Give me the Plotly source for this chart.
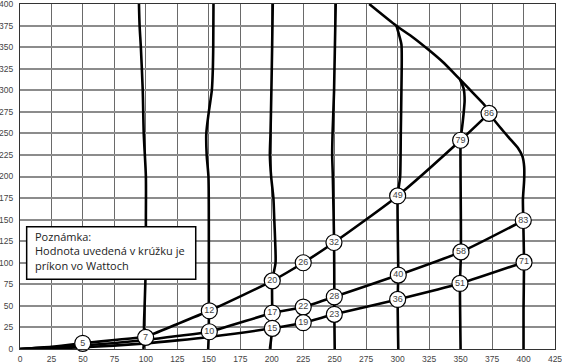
import plotly.graph_objects as go

# ---- speed (fan) curves: x positions read at given y levels ----
n100_y = [400, 375, 350, 300, 250, 200, 150, 100, 50, 25, 14, 0]
n100_x = [94.5, 95, 96, 97.5, 98.3, 100, 100, 100, 99, 98.5, 99, 98]

n150_y = [400, 350, 325, 300, 275, 250, 225, 200, 150, 100, 44, 20, 0]
n150_x = [153.7, 153.5, 153.2, 152.4, 150, 148, 148.3, 149.7, 150, 150, 150, 150, 149.5]

n200_y = [400, 350, 300, 250, 225, 200, 175, 150, 125, 100, 79, 42, 24, 0]
n200_x = [200.8, 200.3, 199.7, 199, 198.5, 199.5, 201.3, 202, 202.7, 203, 200.4, 200.4, 200.4, 198.5]

n250_y = [400, 300, 250, 225, 200, 123.5, 60.5, 40, 0]
n250_x = [250.8, 249.5, 248.3, 248, 248.5, 249.5, 249.7, 249.7, 250]

n300_y = [375, 353, 300, 250, 200, 177.5, 85.7, 57.5, 0]
n300_x = [299, 303, 303, 302.5, 302, 300, 300.5, 300, 300.5]

n350_y = [312.5, 302, 288, 273, 258, 242, 196, 112.6, 76, 0]
n350_x = [349.5, 352.4, 353.2, 352.4, 351.3, 350, 350, 350.3, 349.5, 350]

env_x = [277.4, 298.7, 312, 325.3, 335.9, 343.9, 349.5, 359.8, 369.1, 372.6, 381, 389,
         395.7, 399.2, 400.5, 400.5, 399.5, 399.8, 400.4, 400, 400]
env_y = [400, 375, 361.5, 346, 332.7, 321, 312.5, 297, 282.7, 273.2, 257.7, 244,
         232.7, 223, 211.5, 196, 173, 149, 100.7, 46, 0]

# ---- system curves ----
sysA_x = [0, 25, 50, 75, 99.8, 125, 150.4, 200.4, 225, 249.4, 300, 350, 372.6]
sysA_y = [0, 2.5, 6.6, 10.5, 14.5, 29, 44.3, 79, 100, 123.5, 177.5, 242, 273.2]

sysB_x = [0, 50, 99.8, 125, 150.4, 200.4, 225, 249.7, 300.5, 350.3, 399.8]
sysB_y = [0, 4, 10.5, 15, 20, 41.7, 48.6, 60.5, 85.7, 112.6, 149]

sysC_x = [0, 50, 100, 125, 150, 200.4, 225, 249.7, 300, 349.5, 400.4]
sysC_y = [0, 2, 6.5, 10, 14, 24, 30.5, 40.2, 57.5, 76, 100.7]

# ---- circled power values (W) ----
lab_x = [49.8, 99.8, 150.4, 150.4, 200.4, 225, 249.4, 300, 350, 372.6,
         200.4, 225, 249.7, 300.5, 350.3, 399.8,
         200.4, 225, 249.7, 300, 349.5, 400.4]
lab_y = [6.6, 13.5, 44.3, 20, 79, 100, 123.5, 177.5, 242, 273.2,
         41.7, 48.6, 60.5, 85.7, 112.6, 149,
         24, 30.5, 40.2, 57.5, 76, 100.7]
lab_t = ["5", "7", "12", "10", "20", "26", "32", "49", "79", "86",
         "17", "22", "28", "40", "58", "83",
         "15", "19", "23", "36", "51", "71"]

x_ticks = list(range(0, 426, 25))
y_ticks = list(range(0, 401, 25))

note_lines = ["Poznámka:", "Hodnota uvedená v krúžku je", "príkon vo Wattoch"]

FONT = "Liberation Sans"
NOTE_FONT = "Open Sans"
fig = go.Figure()

curves = [(n100_x, n100_y, 0.7), (n150_x, n150_y, 0.7), (n200_x, n200_y, 0.7),
          (n250_x, n250_y, 0.7), (n300_x, n300_y, 0.5), (n350_x, n350_y, 0.5),
          (env_x, env_y, 0.5), (sysA_x, sysA_y, 0.6), (sysB_x, sysB_y, 0.6),
          (sysC_x, sysC_y, 0.6)]
for xs, ys, sm in curves:
    fig.add_trace(go.Scatter(x=xs, y=ys, mode="lines",
                             line=dict(color="black", width=2.6, shape="spline", smoothing=sm),
                             hoverinfo="skip", showlegend=False))

fig.add_trace(go.Scatter(
    x=lab_x, y=lab_y, text=lab_t, mode="markers+text", textposition="middle center",
    marker=dict(size=16, color="white", line=dict(color="black", width=1.2)),
    textfont=dict(family=FONT, size=9, color="#444"),
    showlegend=False, hoverinfo="skip", cliponaxis=False))

fig.add_shape(type="rect", x0=5.3, x1=139.6, y0=81, y1=141.6, layer="above",
              line=dict(color="black", width=1.5), fillcolor="white")
fig.add_annotation(x=11.5, y=113.5, xanchor="left", yanchor="middle", align="left",
                   showarrow=False, text="<br>".join(note_lines), borderpad=0,
                   font=dict(family=NOTE_FONT, size=11, color="#222"))

fig.update_layout(
    width=562, height=364, margin=dict(l=20, r=7, t=4, b=15),
    paper_bgcolor="white", plot_bgcolor="white",
    font=dict(family=FONT, size=8, color="#444"),
    xaxis=dict(range=[0, 425], tickvals=x_ticks, ticktext=[str(v) for v in x_ticks],
               showgrid=True, gridcolor="#6a6a6a", gridwidth=1, zeroline=False,
               showline=True, mirror=True, linecolor="#333", linewidth=1,
               ticks="", ticklabelstandoff=2, automargin=False, ticklabeloverflow="allow",
               tickfont=dict(family=FONT, size=8.5, color="#444")),
    yaxis=dict(range=[0, 400], tickvals=y_ticks, ticktext=[str(v) for v in y_ticks],
               showgrid=True, gridcolor="#8c8c8c", gridwidth=1.5, zeroline=False,
               showline=True, mirror=True, linecolor="#333", linewidth=1,
               ticks="", ticklabelstandoff=4, automargin=False, ticklabeloverflow="allow",
               tickfont=dict(family=FONT, size=8.5, color="#444")),
)

fig.write_html("out.html")
